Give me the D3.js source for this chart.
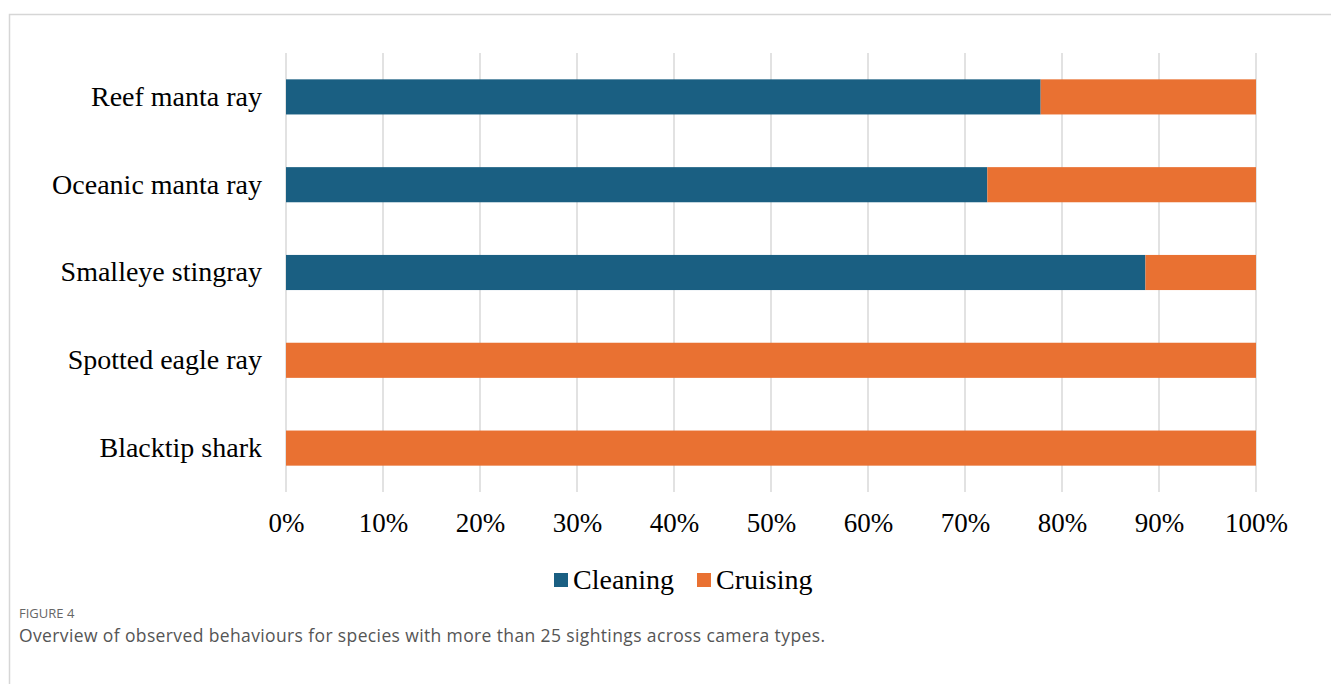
<!DOCTYPE html>
<html>
<head>
<meta charset="utf-8">
<script src="https://cdn.jsdelivr.net/npm/d3@7"></script>
<style>
  html, body { margin: 0; padding: 0; background: #fff; }
  svg { display: block; }
</style>
</head>
<body>
<svg id="chart" width="1331" height="684"></svg>
<script>
const categories = ["Reef manta ray", "Oceanic manta ray", "Smalleye stingray", "Spotted eagle ray", "Blacktip shark"];
const cleaning = [77.8, 72.3, 88.6, 0, 0];
const cruising = [22.2, 27.7, 11.4, 100, 100];
const seriesNames = ["Cleaning", "Cruising"];
const seriesColors = ["#1a5f82", "#e97132"];
const xTicks = [0, 10, 20, 30, 40, 50, 60, 70, 80, 90, 100];

const svg = d3.select("#chart");
const serif = "'Liberation Serif', 'Times New Roman', serif";

// figure frame
svg.append("path")
  .attr("d", "M9.5,684 L9.5,14.5 L1331,14.5")
  .attr("fill", "none").attr("stroke", "#d6d6d6").attr("stroke-width", 1.5);

const x = d3.scaleLinear().domain([0, 100]).range([286, 1256]);
const y = d3.scaleBand().domain(categories).range([53, 492]).paddingInner(0.6).paddingOuter(0.3);

// gridlines
svg.append("g").selectAll("line").data(xTicks).join("line")
  .attr("x1", d => x(d)).attr("x2", d => x(d))
  .attr("y1", 53).attr("y2", 492)
  .attr("stroke", "#d9d9d9").attr("stroke-width", 1.5);

// stacked bars
const rows = categories.map((c, i) => ({ cat: c, vals: [cleaning[i], cruising[i]] }));
const stack = d3.stack().keys([0, 1]).value((d, k) => d.vals[k]);
const stacked = stack(rows);
svg.append("g").selectAll("g").data(stacked).join("g")
  .attr("fill", (d, i) => seriesColors[i])
  .selectAll("rect").data(d => d).join("rect")
  .attr("x", d => x(d[0]))
  .attr("width", d => x(d[1]) - x(d[0]))
  .attr("y", d => y(d.data.cat))
  .attr("height", y.bandwidth());

// category labels
const yAxis = d3.axisLeft(y).tickSize(0).tickPadding(0);
const gy = svg.append("g").attr("transform", "translate(262,0)").call(yAxis);
gy.select(".domain").remove();
gy.selectAll("text")
  .attr("font-family", serif)
  .attr("font-size", 28).attr("fill", "#000").attr("dy", "0.32em");

// x axis labels
const xAxis = d3.axisBottom(x).tickValues(xTicks).tickFormat(d => d + "%").tickSize(0).tickPadding(0);
const gx = svg.append("g").attr("transform", "translate(0,513)").call(xAxis);
gx.select(".domain").remove();
gx.selectAll("text")
  .attr("font-family", serif)
  .attr("font-size", 27).attr("fill", "#000").attr("dy", "0.71em");

// legend
const legendX = [554, 697];
const lg = svg.append("g");
seriesNames.forEach((n, i) => {
  lg.append("rect").attr("x", legendX[i]).attr("y", 573).attr("width", 14).attr("height", 14).attr("fill", seriesColors[i]);
  lg.append("text").attr("x", legendX[i] + 19).attr("y", 589)
    .attr("font-family", serif)
    .attr("font-size", 28).attr("fill", "#000").text(n);
});

// caption
svg.append("text").attr("x", 19).attr("y", 618)
  .attr("font-family", "'Open Sans', 'Noto Sans', sans-serif")
  .attr("font-size", 13).attr("fill", "#666").text("FIGURE 4");
svg.append("text").attr("x", 19).attr("y", 642)
  .attr("font-family", "'Open Sans', 'Noto Sans', sans-serif")
  .attr("font-size", 17.5).attr("fill", "#555")
  .attr("textLength", 806).attr("lengthAdjust", "spacing")
  .text("Overview of observed behaviours for species with more than 25 sightings across camera types.");
</script>
</body>
</html>
